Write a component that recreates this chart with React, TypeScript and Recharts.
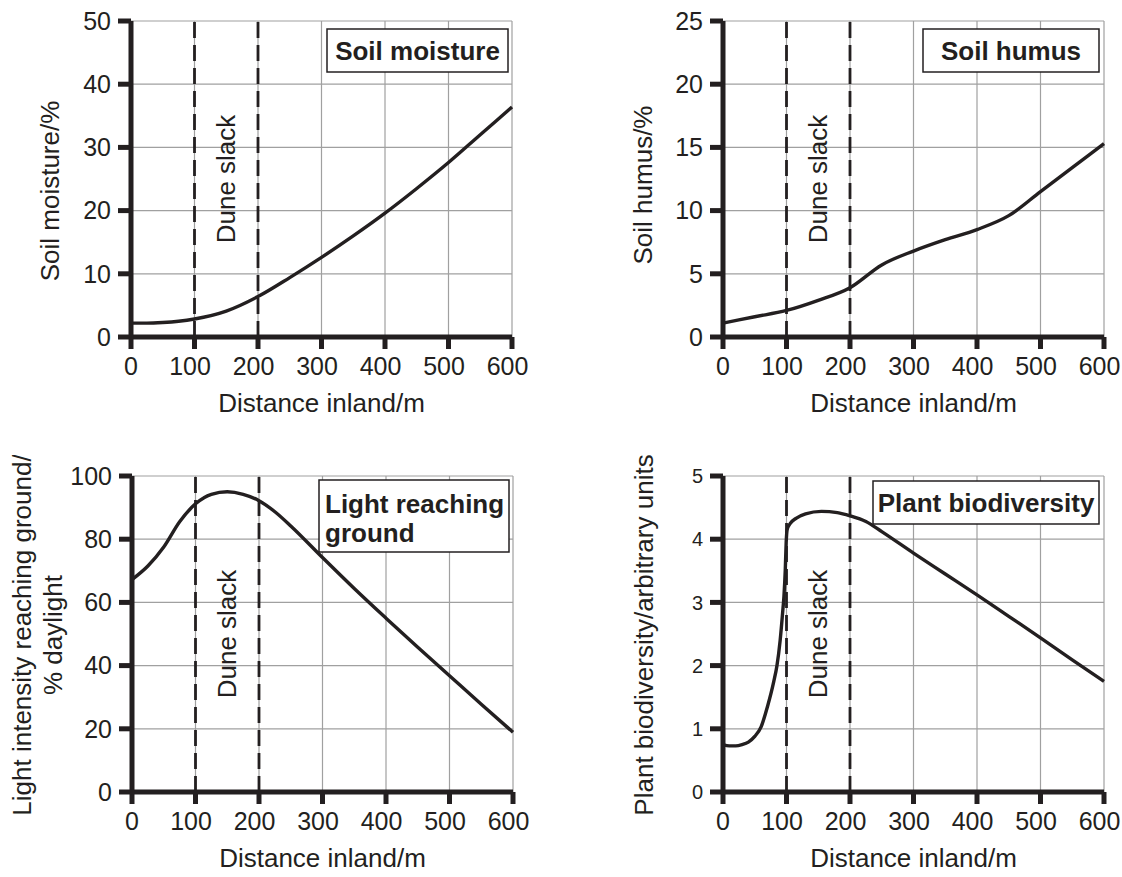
import React from 'react'
import {
  LineChart,
  Line,
  XAxis,
  YAxis,
  CartesianGrid,
  ReferenceLine,
  ReferenceArea,
} from 'recharts'

// distance inland (m) and readings for each panel
const xTicks = [0, 100, 200, 300, 400, 500, 600]
const slackEdges = [100, 200]

const moistureDistance = [0, 25, 50, 75, 100, 150, 200, 250, 300, 350, 400, 450, 500, 550, 600]
const moistureValues = [2.2, 2.2, 2.3, 2.5, 2.85, 4.1, 6.4, 9.4, 12.6, 16.0, 19.6, 23.5, 27.6, 32.0, 36.4]
const moistureTicks = [0, 10, 20, 30, 40, 50]

const humusDistance = [0, 50, 100, 150, 200, 250, 300, 350, 400, 450, 500, 550, 600]
const humusValues = [1.1, 1.6, 2.1, 2.9, 3.9, 5.7, 6.8, 7.7, 8.5, 9.6, 11.5, 13.4, 15.3]
const humusTicks = [0, 5, 10, 15, 20, 25]

const lightDistance = [0, 25, 50, 75, 100, 125, 150, 175, 200, 225, 250, 300, 350, 400, 450, 500, 550, 600]
const lightValues = [67.2, 71.5, 77.5, 85.5, 91.2, 94.2, 95.0, 94.2, 92.2, 88.7, 84.2, 74.2, 64.4, 55.0, 45.8, 36.8, 27.8, 18.9]
const lightTicks = [0, 20, 40, 60, 80, 100]

const plantDistance = [0, 10, 20, 30, 40, 50, 60, 70, 80, 85, 90, 94, 96, 98, 99.5, 101, 106, 115, 130, 155, 180, 200, 225, 250, 300, 350, 400, 450, 500, 550, 600]
const plantValues = [0.75, 0.73, 0.73, 0.75, 0.79, 0.88, 1.03, 1.35, 1.75, 2.0, 2.4, 2.85, 3.1, 3.5, 3.95, 4.15, 4.25, 4.33, 4.4, 4.44, 4.42, 4.37, 4.28, 4.12, 3.78, 3.45, 3.12, 2.78, 2.44, 2.09, 1.75]
const plantTicks = [0, 1, 2, 3, 4, 5]

const FONT = '"Liberation Sans", Arial, Helvetica, sans-serif'
const INK = '#231f20'
const GRID = '#a0a0a0'

const W = 561
const H = 422
const TOP = 21
const X_AXIS_H = 85

interface PanelProps {
  left: number
  top: number
  distance: number[]
  values: number[]
  yTicks: number[]
  yTickFont: number
  yAxisWidth: number
  marginRight: number
  yLabel: string[]
  yLabelX: number[]
  yLabelY: number
  title: string[]
  box: { x: number; y: number; w: number; h: number }
  titleX: number
  titleAnchor: 'start' | 'middle'
  titleBaselines: number[]
}

// the printed tick numbers sit a little left of their tick marks
function DistanceTick(props: any) {
  const { x, y, payload } = props
  const shift = payload.value === 0 ? 0 : -4.5
  return (
    <text
      x={x + shift}
      y={y}
      dy="0.71em"
      textAnchor="middle"
      fontFamily={FONT}
      fontSize={25}
      fill={INK}
    >
      {payload.value}
    </text>
  )
}

function SlackLabel(props: any) {
  const { x, y, width, height } = props.viewBox
  const cx = x + width / 2
  const cy = y + height / 2
  return (
    <text
      x={cx}
      y={cy}
      dy="0.35em"
      transform={`rotate(-90 ${cx} ${cy})`}
      textAnchor="middle"
      fontFamily={FONT}
      fontSize={26}
      fill={INK}
    >
      Dune slack
    </text>
  )
}

function Panel(p: PanelProps) {
  const data = p.distance.map((d, i) => ({ d, v: p.values[i] }))
  const plotLeft = p.yAxisWidth
  const plotRight = W - p.marginRight
  const plotBottom = H - X_AXIS_H
  const yMax = p.yTicks[p.yTicks.length - 1]
  return (
    <div style={{ position: 'absolute', left: p.left, top: p.top }}>
      <LineChart
        width={W}
        height={H}
        data={data}
        margin={{ top: TOP, right: p.marginRight, bottom: 0, left: 0 }}
      >
        <CartesianGrid stroke={GRID} strokeWidth={1.2} />
        <XAxis
          type="number"
          dataKey="d"
          domain={[0, 600]}
          ticks={xTicks}
          interval={0}
          height={X_AXIS_H}
          tickSize={12}
          tickMargin={8}
          tick={DistanceTick}
          axisLine={{ stroke: INK, strokeWidth: 5 }}
          tickLine={{ stroke: INK, strokeWidth: 5 }}
        />
        <YAxis
          type="number"
          domain={[0, yMax]}
          ticks={p.yTicks}
          interval={0}
          width={p.yAxisWidth}
          tickSize={13}
          tickMargin={7}
          tick={{ fontSize: p.yTickFont, fontFamily: FONT, fill: INK }}
          axisLine={{ stroke: INK, strokeWidth: 5 }}
          tickLine={{ stroke: INK, strokeWidth: 5 }}
        />
        <ReferenceArea
          x1={slackEdges[0]}
          x2={slackEdges[1]}
          fill="none"
          fillOpacity={0}
          stroke="none"
          label={SlackLabel}
        />
        {slackEdges.map((x) => (
          <ReferenceLine
            key={x}
            x={x}
            stroke={INK}
            strokeWidth={2.8}
            strokeDasharray="16 7"
          />
        ))}
        <Line
          type="monotone"
          dataKey="v"
          stroke={INK}
          strokeWidth={3.4}
          dot={false}
          activeDot={false}
          isAnimationActive={false}
        />
        <rect
          x={p.box.x}
          y={p.box.y}
          width={p.box.w}
          height={p.box.h}
          fill="#fff"
          stroke={INK}
          strokeWidth={1.5}
        />
        {p.title.map((t, i) => (
          <text
            key={t}
            x={p.titleX}
            y={p.titleBaselines[i]}
            textAnchor={p.titleAnchor}
            fontFamily={FONT}
            fontSize={26}
            fontWeight="bold"
            fill={INK}
          >
            {t}
          </text>
        ))}
        {p.yLabel.map((t, i) => (
          <text
            key={t}
            x={p.yLabelX[i]}
            y={p.yLabelY}
            dy="0.35em"
            transform={`rotate(-90 ${p.yLabelX[i]} ${p.yLabelY})`}
            textAnchor="middle"
            fontFamily={FONT}
            fontSize={26}
            fill={INK}
          >
            {t}
          </text>
        ))}
        <text
          x={(plotLeft + plotRight) / 2}
          y={plotBottom + 74.5}
          textAnchor="middle"
          fontFamily={FONT}
          fontSize={26}
          fill={INK}
        >
          Distance inland/m
        </text>
      </LineChart>
    </div>
  )
}

export default function App() {
  return (
    <div style={{ position: 'absolute', left: 0, top: 0, width: 1122, height: 877, background: '#fff' }}>
      <Panel
        left={0}
        top={0}
        distance={moistureDistance}
        values={moistureValues}
        yTicks={moistureTicks}
        yTickFont={25}
        yAxisWidth={131}
        marginRight={49}
        yLabel={['Soil moisture/%']}
        yLabelX={[50]}
        yLabelY={191}
        title={['Soil moisture']}
        box={{ x: 327, y: 29, w: 181, h: 43 }}
        titleX={417.5}
        titleAnchor="middle"
        titleBaselines={[60]}
      />
      <Panel
        left={561}
        top={0}
        distance={humusDistance}
        values={humusValues}
        yTicks={humusTicks}
        yTickFont={25}
        yAxisWidth={162}
        marginRight={18}
        yLabel={['Soil humus/%']}
        yLabelX={[82]}
        yLabelY={185}
        title={['Soil humus']}
        box={{ x: 362, y: 29, w: 176, h: 43 }}
        titleX={450}
        titleAnchor="middle"
        titleBaselines={[60]}
      />
      <Panel
        left={0}
        top={455}
        distance={lightDistance}
        values={lightValues}
        yTicks={lightTicks}
        yTickFont={25}
        yAxisWidth={132}
        marginRight={48}
        yLabel={['Light intensity reaching ground/', '% daylight']}
        yLabelX={[22, 52.5]}
        yLabelY={180}
        title={['Light reaching', 'ground']}
        box={{ x: 319, y: 25, w: 190, h: 72 }}
        titleX={325}
        titleAnchor="start"
        titleBaselines={[58, 86.5]}
      />
      <Panel
        left={561}
        top={455}
        distance={plantDistance}
        values={plantValues}
        yTicks={plantTicks}
        yTickFont={20}
        yAxisWidth={162}
        marginRight={18}
        yLabel={['Plant biodiversity/arbitrary units']}
        yLabelX={[83]}
        yLabelY={180}
        title={['Plant biodiversity']}
        box={{ x: 312, y: 26, w: 226, h: 43 }}
        titleX={425}
        titleAnchor="middle"
        titleBaselines={[57]}
      />
    </div>
  )
}
